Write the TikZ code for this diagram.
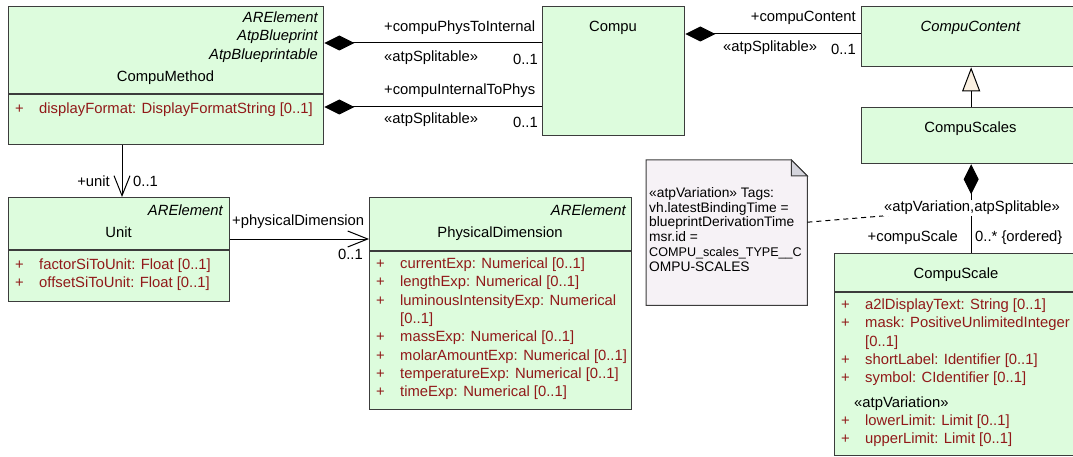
\documentclass[tikz,border=0pt]{standalone}
\usepackage{fontspec}
\setmainfont{Liberation Sans}
\usetikzlibrary{arrows.meta,calc}
\definecolor{boxfill}{RGB}{221,252,221}
\definecolor{boxline}{RGB}{60,60,60}
\definecolor{attrred}{RGB}{145,25,25}
\definecolor{notefill}{RGB}{246,242,246}
\definecolor{foldfill}{RGB}{212,212,220}
\definecolor{trifill}{RGB}{250,240,225}
\tikzset{
 umlbox/.style={draw=boxline, fill=boxfill, line width=1.3pt, inner sep=0pt, anchor=north west},
 sepline/.style={draw=boxline, line width=1.3pt},
 conn/.style={draw=black, line width=1pt},
 txt/.style={inner sep=0pt, text=black},
 attrsign/.style={inner sep=0pt, anchor=base, text=attrred},
 attrtxt/.style={inner sep=0pt, anchor=base west, text=attrred},
 notetxt/.style={inner sep=0pt, anchor=base west, font=\fontsize{13.8}{14.7}\selectfont},
 comp/.style={{Diamond[length=30pt,width=15pt,fill=black]}-},
 navig/.style={-{Straight Barb[length=20pt,width=16pt]}},
 gen/.style={-{Triangle[length=24pt,width=18pt,fill=trifill]}},
}
\newcommand\umlattr[4]{\node[attrsign] (#1s) at (#2+11.5,#3) {+};\node[attrtxt] (#1) at (#2+31,#3) {#4};}
\begin{document}
\begin{tikzpicture}[x=1pt,y=-1pt,font=\fontsize{14.8}{18.3}\selectfont]
\useasboundingbox (0,0) rectangle (1073,457);
\clip (0,0) rectangle (1073,457);
% boxes
\node[umlbox,minimum width=315pt,minimum height=138pt] (cm) at (8,6) {};
\node[umlbox,minimum width=142pt,minimum height=129pt] (compu) at (542,6) {};
\node[umlbox,minimum width=219pt,minimum height=60pt] (ccontent) at (861,6) {};
\node[umlbox,minimum width=219pt,minimum height=56pt] (cscales) at (861,107) {};
\node[umlbox,minimum width=221pt,minimum height=104pt] (unit) at (8,197) {};
\node[umlbox,minimum width=262pt,minimum height=212pt] (pd) at (369,197) {};
\node[umlbox,minimum width=244pt,minimum height=202pt] (cscale) at (834,253) {};
% separators
\draw[sepline] ([yshift=-88pt]cm.north west) -- ([yshift=-88pt]cm.north east);
\draw[sepline] ([yshift=-53pt]unit.north west) -- ([yshift=-53pt]unit.north east);
\draw[sepline] ([yshift=-54pt]pd.north west) -- ([yshift=-54pt]pd.north east);
\draw[sepline] ([yshift=-39pt]cscale.north west) -- ([yshift=-39pt]cscale.north east);
% CompuMethod
\node[txt,anchor=base east] (cmS1) at (318,22.5) {\itshape ARElement};
\node[txt,anchor=base east] (cmS2) at (318,40.5) {\itshape AtpBlueprint};
\node[txt,anchor=base east] (cmS3) at (318,59.5) {\itshape AtpBlueprintable};
\node[txt,anchor=base] (cmN) at (165.5,81.5) {CompuMethod};
\umlattr{cmA}{8}{113.5}{displayFormat: DisplayFormatString [0..1]}
% Compu, CompuContent, CompuScales
\node[txt,anchor=base] (compuN) at (613,31.5) {Compu};
\node[txt,anchor=base] (ccN) at (970.5,31.5) {\itshape CompuContent};
\node[txt,anchor=base] (csN) at (970.5,132.5) {CompuScales};
% Unit
\node[txt,anchor=base east] (unitS) at (223,215.5) {\itshape ARElement};
\node[txt,anchor=base] (unitN) at (118.5,237.5) {Unit};
\umlattr{uA}{8}{269.5}{factorSiToUnit: Float [0..1]}
\umlattr{uB}{8}{287.5}{offsetSiToUnit: Float [0..1]}
% PhysicalDimension
\node[txt,anchor=base east] (pdS) at (626,215.5) {\itshape ARElement};
\node[txt,anchor=base] (pdN) at (500,237.5) {PhysicalDimension};
\umlattr{pdA}{369}{268.5}{currentExp: Numerical [0..1]}
\umlattr{pdB}{369}{286.8}{lengthExp: Numerical [0..1]}
\umlattr{pdC}{369}{305.1}{luminousIntensityExp: Numerical}
\node[attrtxt] (pdC2) at (400,323.4) {[0..1]};
\umlattr{pdD}{369}{341.7}{massExp: Numerical [0..1]}
\umlattr{pdE}{369}{360}{molarAmountExp: Numerical [0..1]}
\umlattr{pdF}{369}{378.3}{temperatureExp: Numerical [0..1]}
\umlattr{pdG}{369}{396.6}{timeExp: Numerical [0..1]}
% CompuScale
\node[txt,anchor=base] (cscN) at (956,278.5) {CompuScale};
\umlattr{csA}{834}{309.5}{a2lDisplayText: String [0..1]}
\umlattr{csB}{834}{327.8}{mask: PositiveUnlimitedInteger}
\node[attrtxt] (csB2) at (865,346.1) {[0..1]};
\umlattr{csC}{834}{364.4}{shortLabel: Identifier [0..1]}
\umlattr{csD}{834}{382.7}{symbol: CIdentifier [0..1]}
\node[txt,anchor=base west] (csV) at (854,407.5) {«atpVariation»};
\umlattr{csE}{834}{425.5}{lowerLimit: Limit [0..1]}
\umlattr{csF}{834}{443.5}{upperLimit: Limit [0..1]}
% Note
\node[inner sep=0pt,minimum width=161pt,minimum height=145pt,anchor=north west] (note) at (646,160) {};
\filldraw[fill=notefill,draw=boxline,line width=1pt] (note.north west) -- ([xshift=-16pt]note.north east) -- ([yshift=-16pt]note.north east) -- (note.south east) -- (note.south west) -- cycle;
\filldraw[fill=foldfill,draw=boxline,line width=1pt] ([xshift=-16pt]note.north east) -- ([yshift=-16pt]note.north east) -- ([xshift=-16pt,yshift=-16pt]note.north east) -- cycle;
\node[notetxt] (nt1) at (649,197.5) {«atpVariation» Tags:};
\node[notetxt] (nt2) at (649,212.2) {vh.latestBindingTime =};
\node[notetxt] (nt3) at (649,226.9) {blueprintDerivationTime};
\node[notetxt] (nt4) at (649,241.6) {msr.id =};
\node[notetxt,font=\fontsize{12.6}{14.7}\selectfont] (nt5) at (649,256.3) {COMPU\_scales\_TYPE\_\_C};
\node[notetxt] (nt6) at (649,271.0) {OMPU-SCALES};
% connectors
\draw[conn,comp] ([yshift=-37pt]cm.north east) -- ([yshift=-37pt]compu.north west);
\draw[conn,comp] ([yshift=-101pt]cm.north east) -- ([yshift=-101pt]compu.north west);
\draw[conn,comp] ([yshift=-28pt]compu.north east) -- ([yshift=-28pt]ccontent.north west);
\draw[conn,gen] (cscales.north) -- (ccontent.south);
\coordinate (mid) at ($(cscales.south)!0.5!(cscales.south |- cscale.north)$);
\draw[conn,comp] (cscales.south) -- (cscales.south |- cscale.north);
\draw[conn,navig] ([xshift=114pt]cm.south west) -- ([xshift=114pt]unit.north west);
\draw[conn,navig] ([yshift=-42pt]unit.north east) -- ([yshift=-42pt]pd.north west);
\draw[conn,dash pattern=on 5pt off 4pt] ([yshift=10.5pt]note.east) -- (mid);
% connector labels
\node[txt,anchor=base west] (l1) at (384,31.5) {+compuPhysToInternal};
\node[txt,anchor=base west] (l2) at (384,61.5) {«atpSplitable»};
\node[txt,anchor=base east] (l3) at (538,64.5) {0..1};
\node[txt,anchor=base west] (l4) at (384,94.5) {+compuInternalToPhys};
\node[txt,anchor=base west] (l5) at (384,123.5) {«atpSplitable»};
\node[txt,anchor=base east] (l6) at (538,127.5) {0..1};
\node[txt,anchor=base east] (l7) at (856,21.5) {+compuContent};
\node[txt,anchor=base west] (l8) at (723,51.5) {«atpSplitable»};
\node[txt,anchor=base east] (l9) at (856,54.5) {0..1};
\node[txt,anchor=base east] (l10) at (110,186.5) {+unit};
\node[txt,anchor=base west] (l11) at (133,186.5) {0..1};
\node[txt,anchor=base west] (l12) at (232,225.5) {+physicalDimension};
\node[txt,anchor=base east] (l13) at (363,259.5) {0..1};
\node[txt,anchor=base,fill=white,inner sep=1pt] (l14) at (972,211.5) {«atpVariation,atpSplitable»};
\node[txt,anchor=base east] (l15) at (958,241.5) {+compuScale};
\node[txt,anchor=base west] (l16) at (975,241.5) {0..* \{ordered\}};
\end{tikzpicture}
\end{document}
